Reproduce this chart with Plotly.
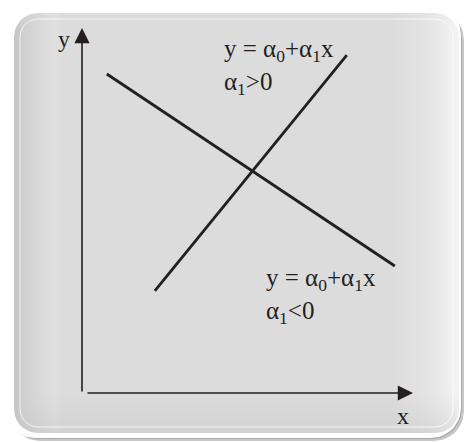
import numpy as np
import plotly.graph_objects as go

# ---- data (chart units: origin at axes corner, axes length 10) ----
axis_len = [10, 10]
pos_line_x = [2.2, 8.0]
pos_line_y = [2.8, 9.26]
neg_line_x = [0.75, 9.45]
neg_line_y = [8.74, 3.48]
label_pos = "y = α<sub>0</sub>+α<sub>1</sub>x<br>α<sub>1</sub>>0"
label_neg = "y = α<sub>0</sub>+α<sub>1</sub>x<br>α<sub>1</sub><0"
x_title = "x"
y_title = "y"

W, H = 465, 442
INK = "#231f20"
FONT = "Liberation Serif"

def rrect(x0, y0, x1, y1, r, n=12):
    pts = []
    corners = [(x1 - r, y0 + r, -90, 0), (x1 - r, y1 - r, 0, 90),
               (x0 + r, y1 - r, 90, 180), (x0 + r, y0 + r, 180, 270)]
    for cx, cy, a0, a1 in corners:
        for a in np.linspace(np.radians(a0), np.radians(a1), n):
            pts.append((cx + r * np.cos(a), cy + r * np.sin(a)))
    pts.append(pts[0])
    xs, ys = zip(*pts)
    return list(xs), list(ys)

fig = go.Figure()

# frame (pixel layer on x/y)
for off, col in [(5, "#c8c8c8"), (3, "#a8a8a8")]:
    xs, ys = rrect(5 + off, 5 + off, 461 + off - 2, 438 + off - 2, 30)
    fig.add_trace(go.Scatter(x=xs, y=ys, fill="toself", fillcolor=col,
                             line=dict(width=0), mode="lines", hoverinfo="skip",
                             showlegend=False))
xs, ys = rrect(5, 5, 461, 438, 30)
fig.add_trace(go.Scatter(x=xs, y=ys, fill="toself", fillcolor="white",
                         line=dict(width=0), mode="lines", hoverinfo="skip", showlegend=False))
xs, ys = rrect(14, 13, 459, 433, 24)
fig.add_trace(go.Scatter(
    x=xs, y=ys, fill="toself", line=dict(width=0), mode="lines", hoverinfo="skip",
    showlegend=False,
    fillgradient=dict(type="horizontal",
                      colorscale=[[0, "#c6c6c6"], [0.013, "#c9c9c9"], [0.016, "#cfcfcf"],
                                  [0.09, "#e0e0e0"], [0.11, "#dcdcdc"], [0.85, "#dcdcdd"],
                                  [0.93, "#e4e4e4"], [1, "#f4f4f4"]])))
# bottom darkening
xs, ys = rrect(14, 360, 459, 433, 24)
fig.add_trace(go.Scatter(
    x=xs, y=ys, fill="toself", line=dict(width=0), mode="lines", hoverinfo="skip",
    showlegend=False,
    fillgradient=dict(type="vertical",
                      colorscale=[[0, "rgba(190,190,190,0.35)"], [0.6, "rgba(200,200,200,0.0)"],
                                  [1, "rgba(200,200,200,0.0)"]])))
xs, ys = rrect(20, 19, 453, 427, 18)
fig.add_trace(go.Scatter(x=xs, y=ys, mode="lines", line=dict(color="rgba(255,255,255,0.75)", width=1),
                         hoverinfo="skip", showlegend=False))

# chart lines (x2/y2)
for lx, ly in [(pos_line_x, pos_line_y), (neg_line_x, neg_line_y)]:
    fig.add_trace(go.Scatter(x=lx, y=ly, mode="lines", line=dict(color=INK, width=2.8),
                             xaxis="x2", yaxis="y2", hoverinfo="skip", showlegend=False))

ann = []
# axes with arrows
ann.append(dict(x=0, y=axis_len[1], ax=0, ay=0, xref="x2", yref="y2", axref="x2", ayref="y2",
                showarrow=True, arrowhead=2, arrowsize=1.9, arrowwidth=1.6, arrowcolor=INK, text=""))
ann.append(dict(x=axis_len[0], y=0, ax=0.12, ay=0, xref="x2", yref="y2", axref="x2", ayref="y2",
                showarrow=True, arrowhead=2, arrowsize=1.9, arrowwidth=1.6, arrowcolor=INK, text=""))
ann.append(dict(x=-0.55, y=9.7, xref="x2", yref="y2", text=y_title,
                showarrow=False, font=dict(family=FONT, size=24, color=INK)))
ann.append(dict(x=9.7, y=-0.62, xref="x2", yref="y2", text=x_title,
                showarrow=False, font=dict(family=FONT, size=24, color=INK)))
ann.append(dict(x=4.22, y=9.85, xref="x2", yref="y2", text=label_pos, align="left",
                xanchor="left", yanchor="top", showarrow=False,
                font=dict(family=FONT, size=25, color=INK)))
ann.append(dict(x=5.5, y=3.6, xref="x2", yref="y2", text=label_neg, align="left",
                xanchor="left", yanchor="top", showarrow=False,
                font=dict(family=FONT, size=25, color=INK)))

fig.update_layout(
    width=W, height=H, margin=dict(l=0, r=0, t=0, b=0),
    paper_bgcolor="white", plot_bgcolor="rgba(0,0,0,0)",
    xaxis=dict(range=[0, W], visible=False, domain=[0, 1]),
    yaxis=dict(range=[H, 0], visible=False, domain=[0, 1]),
    xaxis2=dict(range=[-82 / 33.1, (W - 82) / 33.1], visible=False, overlaying="x", anchor="y2"),
    yaxis2=dict(range=[-(H - 393) / 36.5, 393 / 36.5], visible=False, overlaying="y", anchor="x2"),
    annotations=ann, showlegend=False,
)
fig.write_html("out.html", config={"displayModeBar": False},
               post_script="document.body.style.margin='0';document.body.style.overflow='hidden';")
